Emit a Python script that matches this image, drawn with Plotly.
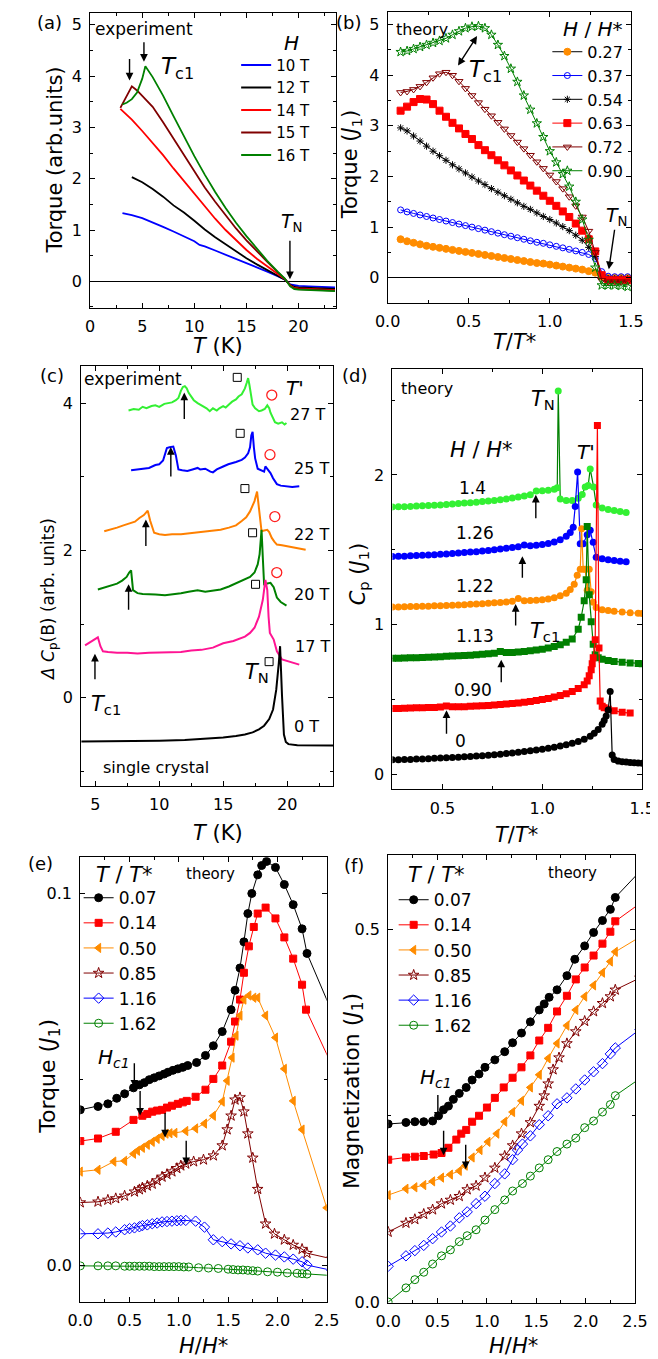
import plotly.graph_objects as go

W, H = 658, 1359
FONT = "DejaVu Sans"


def px(x):
    return x / W


def py(y):
    return 1 - y / H


# ---------------- (a) experiment: torque vs T ----------------
a_T10 = [3.1, 4, 5, 6, 7, 8, 9, 10, 10.5, 11, 12, 13, 14, 15, 16, 17, 18, 18.7, 19.2, 19.6, 20, 21, 22, 23.5]
a_tq10 = [1.33, 1.29, 1.23, 1.15, 1.06, 0.97, 0.88, 0.78, 0.71, 0.68, 0.60, 0.52, 0.43, 0.35, 0.27, 0.19, 0.10, 0.03, -0.06, -0.08, -0.09, -0.10, -0.11, -0.12]
a_T12 = [4, 5, 6, 7, 8, 9, 10, 11, 12, 13, 14, 15, 16, 17, 18, 18.7, 19.2, 19.6, 20, 21, 22, 23.5]
a_tq12 = [2.03, 1.93, 1.80, 1.65, 1.48, 1.34, 1.18, 1.01, 0.86, 0.72, 0.58, 0.45, 0.33, 0.22, 0.11, 0.03, -0.07, -0.11, -0.12, -0.13, -0.14, -0.15]
a_T14 = [2.9, 4, 5, 6, 7, 8, 9, 10, 11, 12, 13, 14, 15, 16, 17, 18, 18.7, 19.2, 19.6, 20, 21, 22, 23.5]
a_tq14 = [3.36, 3.15, 2.93, 2.70, 2.46, 2.20, 1.95, 1.70, 1.45, 1.22, 1.00, 0.80, 0.61, 0.44, 0.29, 0.14, 0.04, -0.08, -0.13, -0.14, -0.15, -0.16, -0.17]
a_T15 = [2.9, 3.5, 4.0, 4.5, 5, 6, 7, 8, 9, 10, 11, 12, 13, 14, 15, 16, 17, 18, 18.7, 19.2, 19.6, 20, 21, 22, 23.5]
a_tq15 = [3.38, 3.60, 3.80, 3.72, 3.62, 3.40, 3.10, 2.78, 2.45, 2.13, 1.83, 1.55, 1.28, 1.03, 0.80, 0.58, 0.38, 0.18, 0.05, -0.09, -0.14, -0.15, -0.16, -0.17, -0.18]
a_T16 = [3.1, 3.5, 4, 4.5, 5, 5.3, 6, 7, 8, 9, 10, 11, 12, 13, 14, 15, 16, 17, 18, 18.7, 19.2, 19.6, 20, 21, 22, 23.5]
a_tq16 = [3.45, 3.48, 3.55, 3.68, 3.95, 4.19, 3.98, 3.62, 3.22, 2.82, 2.44, 2.08, 1.74, 1.43, 1.14, 0.88, 0.63, 0.40, 0.19, 0.05, -0.10, -0.15, -0.16, -0.17, -0.18, -0.19]
a_labels = ["10 T", "12 T", "14 T", "15 T", "16 T"]

# ---------------- (b) theory: torque vs T/T* ----------------
b_x = [0.08, 0.12, 0.16, 0.20, 0.24, 0.28, 0.32, 0.36, 0.40, 0.44, 0.48, 0.52, 0.56, 0.60, 0.64, 0.68, 0.72, 0.76,
       0.80, 0.84, 0.88, 0.92, 0.96, 1.00, 1.04, 1.08, 1.12, 1.16, 1.20, 1.24, 1.28, 1.32, 1.36, 1.40, 1.44, 1.48]
b_027 = [0.76, 0.72, 0.69, 0.66, 0.63, 0.61, 0.59, 0.57, 0.55, 0.53, 0.51, 0.49, 0.47, 0.45, 0.43, 0.41, 0.39, 0.37,
         0.35, 0.33, 0.31, 0.29, 0.28, 0.26, 0.24, 0.22, 0.20, 0.18, 0.16, 0.13, 0.10, 0.02, 0.00, 0.00, 0.00, 0.00]
b_037 = [1.34, 1.30, 1.27, 1.24, 1.21, 1.18, 1.15, 1.12, 1.09, 1.06, 1.03, 1.00, 0.97, 0.94, 0.91, 0.88, 0.85, 0.82,
         0.79, 0.76, 0.73, 0.70, 0.68, 0.65, 0.62, 0.59, 0.56, 0.53, 0.50, 0.46, 0.38, 0.12, 0.03, 0.02, 0.02, 0.02]
b_054 = [2.96, 2.90, 2.80, 2.70, 2.60, 2.50, 2.41, 2.32, 2.23, 2.15, 2.07, 1.99, 1.91, 1.84, 1.76, 1.69, 1.62, 1.55,
         1.48, 1.41, 1.35, 1.28, 1.21, 1.15, 1.08, 1.01, 0.93, 0.84, 0.74, 0.60, 0.42, 0.05, -0.02, -0.02, -0.02, -0.02]
b_063 = [3.30, 3.38, 3.47, 3.53, 3.52, 3.43, 3.30, 3.18, 3.06, 2.95, 2.84, 2.74, 2.62, 2.52, 2.42, 2.32, 2.22, 2.12,
         2.02, 1.92, 1.82, 1.72, 1.62, 1.52, 1.42, 1.31, 1.20, 1.07, 0.93, 0.76, 0.52, 0.05, -0.05, -0.05, -0.05, -0.05]
b_072 = [3.66, 3.68, 3.72, 3.78, 3.86, 3.95, 4.03, 4.06, 4.00, 3.88, 3.74, 3.60, 3.46, 3.33, 3.20, 3.07, 2.94, 2.81,
         2.68, 2.55, 2.42, 2.29, 2.16, 2.03, 1.90, 1.76, 1.60, 1.42, 1.20, 0.92, 0.50, -0.05, -0.08, -0.08, -0.08, -0.08]
b_090 = [4.46, 4.48, 4.52, 4.56, 4.60, 4.64, 4.68, 4.73, 4.80, 4.87, 4.93, 4.96, 4.97, 4.93, 4.80, 4.60, 4.38, 4.13,
         3.87, 3.60, 3.32, 3.05, 2.78, 2.50, 2.28, 2.05, 1.80, 1.50, 1.15, 0.75, 0.20, -0.15, -0.15, -0.15, -0.16, -0.18]
b_labels = ["0.27", "0.37", "0.54", "0.63", "0.72", "0.90"]

# ---------------- (c) experiment: specific heat ----------------
c_T27 = [7.6, 8.0, 8.4, 8.7, 9.0, 9.4, 9.7, 10.0, 10.4, 10.7, 11.0, 11.3, 11.5, 11.7, 11.85, 12.0, 12.15, 12.3, 12.5,
         12.7, 13.0, 13.2, 13.45, 13.7, 13.95, 14.2, 14.5, 14.7, 15.0, 15.2, 15.45, 15.7, 16.0, 16.2, 16.45, 16.7,
         16.85, 16.95, 17.05, 17.15, 17.3, 17.5, 17.8, 18.0, 18.25, 18.45, 18.6, 18.7, 18.9, 19.05, 19.3, 19.6, 19.8, 19.95]
c_v27 = [3.90, 3.92, 3.91, 3.95, 3.93, 3.96, 3.97, 3.95, 3.99, 4.00, 4.01, 4.04, 4.07, 4.17, 4.22, 4.23, 4.20, 4.14, 4.08,
         4.04, 4.00, 3.98, 3.96, 3.93, 3.89, 3.93, 3.90, 3.93, 3.96, 3.94, 3.98, 4.02, 4.05, 4.09, 4.12, 4.20,
         4.28, 4.34, 4.25, 4.13, 3.98, 3.93, 3.89, 3.90, 3.92, 3.97, 3.93, 3.87, 3.80, 3.74, 3.72, 3.74, 3.71, 3.73]
c_T25 = [7.8, 8.2, 8.7, 9.2, 9.7, 10.0, 10.3, 10.45, 10.6, 10.8, 11.1, 11.3, 11.5, 11.8, 12.2, 12.6, 13.0, 13.2, 13.6,
         14.0, 14.2, 14.5, 14.7, 15.0, 15.4, 15.7, 16.0, 16.45, 16.7, 16.95, 17.1, 17.2, 17.3, 17.4, 17.5, 17.7, 17.9,
         18.2, 18.3, 18.5, 18.7, 18.9, 19.2, 19.5, 19.95, 20.4, 20.95]
c_v25 = [3.09, 3.10, 3.11, 3.12, 3.16, 3.17, 3.22, 3.30, 3.39, 3.40, 3.41, 3.29, 3.10, 3.09, 3.08, 3.10, 3.12, 3.10, 3.11,
         3.07, 3.06, 3.10, 3.12, 3.14, 3.17, 3.18, 3.20, 3.23, 3.26, 3.32, 3.40, 3.56, 3.61, 3.40, 3.25, 3.11, 3.09,
         3.07, 3.14, 3.10, 3.05, 2.98, 2.90, 2.88, 2.87, 2.86, 2.87]
c_T22 = [5.7, 6.2, 6.7, 7.2, 7.7, 8.1, 8.45, 8.8, 9.1, 9.3, 9.6, 10.0, 10.45, 11.0, 11.7, 12.3, 12.95, 13.6, 14.2, 14.8,
         15.45, 16.0, 16.45, 16.8, 17.1, 17.3, 17.45, 17.65, 17.8, 18.0, 18.2, 18.45, 18.6, 18.8, 19.0, 19.2, 19.6,
         19.95, 20.3, 20.7, 21.1, 21.45]
c_v22 = [2.26, 2.28, 2.31, 2.34, 2.37, 2.39, 2.44, 2.48, 2.54, 2.40, 2.24, 2.22, 2.21, 2.22, 2.22, 2.23, 2.24, 2.25, 2.26,
         2.28, 2.31, 2.34, 2.40, 2.45, 2.53, 2.60, 2.67, 2.80, 2.53, 2.26, 2.27, 2.28, 2.25, 2.17, 2.12, 2.08, 2.07,
         2.06, 2.04, 2.03, 2.02, 2.01]
c_T20 = [5.2, 5.7, 6.2, 6.7, 7.1, 7.45, 7.65, 7.8, 7.95, 8.3, 8.7, 9.2, 9.7, 10.45, 11.0, 11.7, 12.3, 13.0, 13.6, 14.2,
         14.8, 15.45, 16.0, 16.7, 17.1, 17.45, 17.7, 17.85, 18.0, 18.1, 18.2, 18.45, 18.7, 18.95, 19.2, 19.5, 19.95]
c_v20 = [1.47, 1.50, 1.52, 1.55, 1.59, 1.64, 1.70, 1.73, 1.46, 1.42, 1.41, 1.40, 1.40, 1.39, 1.40, 1.42, 1.44, 1.46, 1.44,
         1.45, 1.47, 1.51, 1.55, 1.60, 1.64, 1.70, 1.81, 1.95, 2.28, 1.90, 1.54, 1.55, 1.56, 1.50, 1.36, 1.30, 1.25]
c_T17 = [4.2, 4.6, 5.0, 5.2, 5.4, 5.6, 6.0, 6.7, 7.5, 8.3, 9.2, 10.0, 10.8, 11.7, 12.5, 13.3, 14.2, 15.0, 15.8, 16.7,
         17.1, 17.45, 17.8, 18.1, 18.3, 18.45, 18.55, 18.65, 18.95, 19.2, 19.6, 19.95, 20.45, 20.95]
c_v17 = [0.71, 0.75, 0.80, 0.82, 0.70, 0.63, 0.62, 0.61, 0.61, 0.60, 0.61, 0.61, 0.62, 0.62, 0.64, 0.65, 0.68, 0.74, 0.77,
         0.83, 0.88, 0.95, 1.10, 1.33, 1.60, 1.46, 1.10, 0.88, 0.79, 0.63, 0.52, 0.50, 0.47, 0.45]
c_T0 = [3.9, 6, 8, 10, 12, 13, 14, 15, 16, 16.7, 17.3, 17.8, 18.2, 18.6, 18.9, 19.15, 19.35, 19.45, 19.6, 19.75, 19.9,
        20.1, 20.8, 22, 23.6]
c_v0 = [-0.595, -0.595, -0.59, -0.585, -0.575, -0.565, -0.555, -0.54, -0.52, -0.50, -0.47, -0.43, -0.38, -0.29, -0.16,
        0.11, 0.47, 0.70, 0.03, -0.50, -0.60, -0.63, -0.645, -0.65, -0.65]
c_sq_T = [16.1, 16.33, 16.7, 17.3, 17.53, 18.59]       # T_N markers (open squares)
c_sq_v = [4.35, 3.59, 2.84, 2.24, 1.54, 0.49]
c_ci_T = [18.8, 18.66, 19.04, 19.19]                  # T' markers (open circles)
c_ci_v = [4.11, 3.30, 2.46, 1.70]
c_labels = ["27 T", "25 T", "22 T", "20 T", "17 T", "0 T"]

# ---------------- (d) theory: specific heat ----------------
d_x0 = [0.25, 0.28, 0.31, 0.34, 0.37, 0.40, 0.43, 0.46, 0.49, 0.52, 0.55, 0.58, 0.61, 0.64, 0.67, 0.70, 0.73, 0.76,
        0.79, 0.82, 0.85, 0.88, 0.91, 0.94, 0.97, 1.00, 1.03, 1.06, 1.09, 1.12, 1.15, 1.18, 1.21, 1.24, 1.26, 1.28,
        1.30, 1.31, 1.32, 1.33, 1.34, 1.35, 1.36, 1.38, 1.40, 1.42, 1.44, 1.46, 1.48, 1.50]
d_c0 = [0.098, 0.099, 0.100, 0.101, 0.103, 0.104, 0.106, 0.108, 0.110, 0.112, 0.114, 0.116, 0.118, 0.120, 0.123, 0.126,
        0.129, 0.132, 0.136, 0.140, 0.144, 0.148, 0.153, 0.158, 0.163, 0.169, 0.175, 0.182, 0.190, 0.199, 0.209, 0.221,
        0.235, 0.255, 0.275, 0.300, 0.335, 0.360, 0.390, 0.430, 0.555, 0.130, 0.100, 0.090, 0.086, 0.083, 0.080, 0.078,
        0.077, 0.076]
d_x090 = [0.25, 0.28, 0.31, 0.34, 0.37, 0.40, 0.43, 0.46, 0.49, 0.52, 0.55, 0.58, 0.61, 0.64, 0.67, 0.70, 0.73, 0.76,
          0.79, 0.82, 0.85, 0.88, 0.91, 0.94, 0.97, 1.00, 1.03, 1.06, 1.09, 1.12, 1.15, 1.18, 1.21, 1.225, 1.235, 1.245,
          1.25, 1.255, 1.265, 1.276, 1.284, 1.29, 1.30, 1.31, 1.33, 1.36, 1.40, 1.44]
d_c090 = [0.440, 0.441, 0.442, 0.444, 0.445, 0.446, 0.447, 0.448, 0.450, 0.458, 0.452, 0.452, 0.453, 0.455, 0.457, 0.459,
          0.461, 0.464, 0.467, 0.470, 0.474, 0.478, 0.483, 0.488, 0.494, 0.500, 0.508, 0.517, 0.527, 0.540, 0.555, 0.575,
          0.600, 0.625, 0.660, 0.700, 0.740, 0.780, 0.900, 2.330, 0.845, 0.490, 0.455, 0.445, 0.435, 0.425, 0.415, 0.410]
d_x113 = [0.25, 0.28, 0.31, 0.34, 0.37, 0.40, 0.43, 0.46, 0.49, 0.52, 0.55, 0.58, 0.61, 0.64, 0.67, 0.70, 0.73, 0.76,
          0.79, 0.82, 0.85, 0.88, 0.91, 0.94, 0.97, 1.00, 1.03, 1.06, 1.09, 1.12, 1.15, 1.18, 1.195, 1.21, 1.22, 1.225,
          1.235, 1.245, 1.255, 1.265, 1.28, 1.30, 1.33, 1.36, 1.40, 1.44, 1.48, 1.50]
d_c113 = [0.776, 0.777, 0.778, 0.779, 0.780, 0.782, 0.783, 0.785, 0.787, 0.789, 0.791, 0.793, 0.795, 0.797, 0.800, 0.803,
          0.806, 0.810, 0.822, 0.814, 0.815, 0.818, 0.822, 0.826, 0.831, 0.837, 0.845, 0.855, 0.867, 0.883, 0.905, 0.970,
          1.050, 1.160, 1.300, 1.655, 1.200, 1.020, 0.870, 0.800, 0.780, 0.770, 0.762, 0.755, 0.750, 0.745, 0.742, 0.740]
d_x122 = [0.25, 0.28, 0.31, 0.34, 0.37, 0.40, 0.43, 0.46, 0.49, 0.52, 0.55, 0.58, 0.61, 0.64, 0.67, 0.70, 0.73, 0.76,
          0.79, 0.82, 0.85, 0.88, 0.91, 0.94, 0.97, 1.00, 1.03, 1.06, 1.09, 1.12, 1.14, 1.16, 1.175, 1.19, 1.197, 1.205,
          1.215, 1.225, 1.235, 1.245, 1.255, 1.27, 1.30, 1.33, 1.36, 1.40, 1.44, 1.48, 1.50]
d_c122 = [1.118, 1.119, 1.120, 1.121, 1.122, 1.123, 1.124, 1.126, 1.127, 1.129, 1.130, 1.132, 1.134, 1.136, 1.138, 1.140,
          1.143, 1.146, 1.149, 1.152, 1.156, 1.175, 1.160, 1.161, 1.163, 1.166, 1.172, 1.180, 1.193, 1.210, 1.235, 1.270,
          1.330, 1.370, 1.640, 1.370, 1.370, 1.230, 1.370, 1.220, 1.150, 1.115, 1.100, 1.095, 1.090, 1.085, 1.080, 1.077,
          1.075]
d_x126 = [0.25, 0.28, 0.31, 0.34, 0.37, 0.40, 0.43, 0.46, 0.49, 0.52, 0.55, 0.58, 0.61, 0.64, 0.67, 0.70, 0.73, 0.76,
          0.79, 0.82, 0.85, 0.88, 0.91, 0.94, 0.97, 1.00, 1.03, 1.06, 1.09, 1.12, 1.14, 1.155, 1.165, 1.177, 1.19, 1.205,
          1.225, 1.24, 1.255, 1.27, 1.30, 1.33, 1.36, 1.39, 1.42]
d_c126 = [1.456, 1.457, 1.458, 1.460, 1.462, 1.464, 1.466, 1.468, 1.470, 1.473, 1.476, 1.479, 1.482, 1.485, 1.488, 1.492,
          1.496, 1.500, 1.505, 1.510, 1.515, 1.520, 1.533, 1.528, 1.530, 1.535, 1.543, 1.553, 1.567, 1.590, 1.615, 1.650,
          1.790, 2.020, 1.540, 1.540, 1.600, 1.630, 1.550, 1.450, 1.440, 1.433, 1.428, 1.424, 1.420]
d_x140 = [0.25, 0.28, 0.31, 0.34, 0.37, 0.40, 0.43, 0.46, 0.49, 0.52, 0.55, 0.58, 0.61, 0.64, 0.67, 0.70, 0.73, 0.76,
          0.79, 0.82, 0.85, 0.88, 0.91, 0.94, 0.97, 1.00, 1.03, 1.06, 1.075, 1.08, 1.09, 1.12, 1.15, 1.18, 1.20, 1.215,
          1.23, 1.24, 1.257, 1.27, 1.30, 1.33, 1.36, 1.39, 1.42]
d_c140 = [1.786, 1.787, 1.788, 1.790, 1.792, 1.794, 1.796, 1.798, 1.800, 1.803, 1.806, 1.809, 1.812, 1.815, 1.818, 1.822,
          1.826, 1.830, 1.835, 1.840, 1.846, 1.853, 1.860, 1.868, 1.893, 1.895, 1.898, 1.905, 1.915, 2.560, 1.840, 1.830,
          1.830, 1.845, 1.870, 1.920, 1.930, 2.040, 1.920, 1.800, 1.780, 1.770, 1.762, 1.756, 1.750]
d_labels = ["1.4", "1.26", "1.22", "1.13", "0.90", "0"]

# ---------------- (e) theory: torque vs H/H* ----------------
e_x007 = [0, 0.18, 0.28, 0.37, 0.45, 0.54, 0.60, 0.65, 0.70, 0.75, 0.80, 0.85, 0.89, 0.94, 0.99, 1.04, 1.09, 1.18, 1.27,
          1.35, 1.44, 1.53, 1.57, 1.62, 1.66, 1.70, 1.74, 1.80, 1.84, 1.89, 1.98, 2.07, 2.16, 2.25, 2.30, 2.55]
e_t007 = [0.0419, 0.0428, 0.0435, 0.0450, 0.0462, 0.0478, 0.0486, 0.0492, 0.0500, 0.0505, 0.0510, 0.0515, 0.0520, 0.0525,
          0.0529, 0.0533, 0.0538, 0.0546, 0.0565, 0.0591, 0.0629, 0.0688, 0.0740, 0.0800, 0.0870, 0.0946, 0.1000, 0.1050,
          0.1075, 0.1086, 0.1070, 0.1024, 0.0970, 0.0905, 0.0839, 0.0684]
e_x014 = [0, 0.18, 0.36, 0.54, 0.63, 0.68, 0.73, 0.78, 0.83, 0.88, 0.93, 0.99, 1.04, 1.08, 1.17, 1.27, 1.35, 1.44, 1.53,
          1.57, 1.62, 1.66, 1.71, 1.76, 1.80, 1.88, 1.98, 2.07, 2.16, 2.25, 2.29, 2.55]
e_t014 = [0.0335, 0.0342, 0.0360, 0.0392, 0.0403, 0.0408, 0.0414, 0.0417, 0.0419, 0.0425, 0.0430, 0.0435, 0.0439, 0.0443,
          0.0454, 0.0473, 0.0502, 0.0538, 0.0602, 0.0656, 0.0715, 0.0787, 0.0858, 0.0910, 0.0946, 0.0962, 0.0933, 0.0882,
          0.0825, 0.0755, 0.0688, 0.0540]
e_x050 = [0, 0.18, 0.34, 0.45, 0.54, 0.58, 0.63, 0.68, 0.73, 0.78, 0.83, 0.87, 0.91, 0.96, 1.07, 1.17, 1.26, 1.35, 1.44,
          1.49, 1.54, 1.58, 1.62, 1.66, 1.71, 1.76, 1.80, 1.88, 1.98, 2.07, 2.16, 2.25, 2.50]
e_t050 = [0.0253, 0.0258, 0.0280, 0.0282, 0.0301, 0.0309, 0.0317, 0.0325, 0.0333, 0.0341, 0.0349, 0.0355, 0.0356, 0.0357,
          0.0362, 0.0369, 0.0382, 0.0403, 0.0441, 0.0497, 0.0559, 0.0618, 0.0672, 0.0715, 0.0726, 0.0720, 0.0720, 0.0672,
          0.0613, 0.0529, 0.0443, 0.0366, 0.0156]
e_x085 = [0, 0.18, 0.28, 0.36, 0.45, 0.55, 0.60, 0.63, 0.68, 0.73, 0.78, 0.83, 0.88, 0.93, 0.98, 1.02, 1.07, 1.15, 1.25,
          1.35, 1.44, 1.49, 1.53, 1.57, 1.62, 1.66, 1.70, 1.75, 1.80, 1.88, 1.97, 2.07, 2.16, 2.25, 2.30, 2.55]
e_t085 = [0.0170, 0.0172, 0.0177, 0.0181, 0.0188, 0.0199, 0.0205, 0.0210, 0.0215, 0.0220, 0.0229, 0.0239, 0.0246, 0.0253,
          0.0262, 0.0269, 0.0274, 0.0280, 0.0285, 0.0296, 0.0323, 0.0366, 0.0403, 0.0446, 0.0452, 0.0414, 0.0355, 0.0290,
          0.0206, 0.0113, 0.0086, 0.0070, 0.0056, 0.0045, 0.0034, 0.0019]
e_x116 = [0, 0.18, 0.28, 0.36, 0.45, 0.50, 0.55, 0.60, 0.63, 0.68, 0.73, 0.78, 0.83, 0.88, 0.93, 0.98, 1.02, 1.07, 1.17,
          1.26, 1.35, 1.44, 1.53, 1.62, 1.70, 1.80, 1.88, 1.98, 2.07, 2.16, 2.25, 2.30, 2.55]
e_t116 = [0.0086, 0.0086, 0.0088, 0.0091, 0.0097, 0.0100, 0.0102, 0.0105, 0.0108, 0.0110, 0.0113, 0.0115, 0.0118, 0.0119,
          0.0120, 0.0121, 0.0122, 0.0122, 0.0120, 0.0104, 0.0070, 0.0065, 0.0059, 0.0054, 0.0048, 0.0043, 0.0034, 0.0029,
          0.0024, 0.0018, 0.0011, 0.0002, -0.0012]
e_x162 = [0, 0.18, 0.28, 0.36, 0.45, 0.50, 0.55, 0.60, 0.65, 0.70, 0.75, 0.80, 0.85, 0.90, 0.95, 1.00, 1.05, 1.10, 1.20,
          1.30, 1.40, 1.50, 1.55, 1.60, 1.65, 1.70, 1.75, 1.80, 1.90, 2.00, 2.10, 2.20, 2.25, 2.30, 2.55]
e_t162 = [0.0, 0.0, 0.0, 0.0, -0.0001, -0.0001, -0.0001, -0.0001, -0.0001, -0.0001, -0.0002, -0.0002, -0.0002, -0.0002,
          -0.0002, -0.0002, -0.0003, -0.0003, -0.0005, -0.0006, -0.0007, -0.0009, -0.0010, -0.0011, -0.0011, -0.0012,
          -0.0013, -0.0014, -0.0016, -0.0017, -0.0019, -0.0020, -0.0021, -0.0022, -0.0026]
ef_labels = ["0.07", "0.14", "0.50", "0.85", "1.16", "1.62"]

# ---------------- (f) theory: magnetization vs H/H* ----------------
f_x007 = [0, 0.18, 0.27, 0.36, 0.45, 0.51, 0.56, 0.61, 0.66, 0.72, 0.79, 0.85, 0.92, 0.98, 1.08, 1.18, 1.26, 1.35, 1.44,
          1.53, 1.58, 1.63, 1.71, 1.81, 1.89, 1.99, 2.08, 2.17, 2.25, 2.30, 2.55]
f_m007 = [0.239, 0.241, 0.242, 0.242, 0.243, 0.250, 0.258, 0.263, 0.272, 0.280, 0.288, 0.298, 0.306, 0.315, 0.325, 0.336,
          0.348, 0.361, 0.376, 0.392, 0.400, 0.409, 0.419, 0.438, 0.460, 0.478, 0.496, 0.512, 0.527, 0.543, 0.578]
f_x014 = [0, 0.18, 0.27, 0.36, 0.46, 0.54, 0.61, 0.69, 0.74, 0.79, 0.85, 0.92, 1.00, 1.08, 1.17, 1.26, 1.35, 1.44, 1.53,
          1.62, 1.71, 1.81, 1.90, 1.99, 2.08, 2.17, 2.25, 2.30, 2.55]
f_m014 = [0.191, 0.194, 0.195, 0.196, 0.198, 0.200, 0.207, 0.218, 0.226, 0.231, 0.242, 0.250, 0.261, 0.274, 0.288, 0.301,
          0.315, 0.331, 0.351, 0.368, 0.390, 0.411, 0.433, 0.449, 0.465, 0.481, 0.497, 0.511, 0.535]
f_x050 = [0, 0.18, 0.27, 0.36, 0.45, 0.54, 0.63, 0.72, 0.78, 0.85, 0.93, 1.01, 1.10, 1.18, 1.26, 1.35, 1.44, 1.53, 1.62,
          1.71, 1.81, 1.90, 1.99, 2.08, 2.17, 2.25, 2.30, 2.55]
f_m050 = [0.1435, 0.152, 0.154, 0.157, 0.162, 0.167, 0.171, 0.176, 0.183, 0.194, 0.204, 0.215, 0.226, 0.242, 0.255,
          0.270, 0.288, 0.305, 0.327, 0.347, 0.371, 0.392, 0.410, 0.425, 0.442, 0.457, 0.470, 0.490]
f_x085 = [0, 0.18, 0.27, 0.36, 0.45, 0.54, 0.63, 0.72, 0.80, 0.89, 0.98, 1.08, 1.18, 1.26, 1.35, 1.44, 1.53, 1.58, 1.62,
          1.67, 1.73, 1.81, 1.90, 1.99, 2.08, 2.17, 2.25, 2.30, 2.55]
f_m085 = [0.094, 0.106, 0.111, 0.118, 0.124, 0.132, 0.137, 0.142, 0.151, 0.156, 0.167, 0.180, 0.196, 0.210, 0.226, 0.241,
          0.263, 0.277, 0.293, 0.312, 0.328, 0.347, 0.363, 0.377, 0.390, 0.401, 0.410, 0.419, 0.435]
f_x116 = [0, 0.18, 0.27, 0.36, 0.45, 0.54, 0.63, 0.72, 0.80, 0.89, 0.98, 1.08, 1.18, 1.26, 1.31, 1.36, 1.44, 1.53, 1.62,
          1.71, 1.81, 1.90, 1.99, 2.08, 2.17, 2.25, 2.30, 2.55]
f_m116 = [0.048, 0.062, 0.069, 0.076, 0.085, 0.094, 0.102, 0.113, 0.121, 0.132, 0.142, 0.159, 0.172, 0.191, 0.204, 0.212,
          0.223, 0.238, 0.250, 0.266, 0.274, 0.286, 0.298, 0.309, 0.320, 0.333, 0.341, 0.366]
f_x162 = [0, 0.18, 0.27, 0.36, 0.45, 0.54, 0.63, 0.72, 0.80, 0.89, 0.98, 1.08, 1.18, 1.26, 1.36, 1.44, 1.53, 1.62, 1.71,
          1.81, 1.90, 1.99, 2.08, 2.17, 2.25, 2.30, 2.55]
f_m162 = [0.0, 0.019, 0.030, 0.040, 0.051, 0.062, 0.070, 0.081, 0.089, 0.097, 0.110, 0.124, 0.137, 0.149, 0.159, 0.169,
          0.180, 0.191, 0.202, 0.212, 0.220, 0.234, 0.243, 0.255, 0.265, 0.277, 0.300]

# ---------------- styles ----------------
ORANGE = "#FF8C00"
DARKRED = "#800000"
GREEN = "#008000"
LIME = "#33F033"
PINK = "#FF1493"

fig = go.Figure()

# (a)
for T, v, lab, col in zip([a_T10, a_T12, a_T14, a_T15, a_T16], [a_tq10, a_tq12, a_tq14, a_tq15, a_tq16],
                          a_labels, ["#0000FF", "black", "#FF0000", DARKRED, GREEN]):
    fig.add_trace(go.Scatter(x=T, y=v, mode="lines", name=lab, line=dict(color=col, width=1.8),
                             xaxis="x", yaxis="y", legend="legend"))

# (b)
b_series = [b_027, b_037, b_054, b_063, b_072, b_090]
b_sym = ["circle", "circle-open", "asterisk-open", "square", "triangle-down-open", "star-open"]
b_col = [ORANGE, "#0000FF", "black", "#FF0000", DARKRED, GREEN]
b_lcol = ["black", "#0000FF", "black", "#FF0000", DARKRED, GREEN]
b_size = [7, 6, 6, 7, 7, 7]
for v, lab, s, col, lc, sz in zip(b_series, b_labels, b_sym, b_col, b_lcol, b_size):
    fig.add_trace(go.Scatter(x=b_x, y=v, mode="lines+markers", name=lab,
                             line=dict(color=lc, width=1),
                             marker=dict(symbol=s, size=sz, color=col, line=dict(color=col, width=1)),
                             xaxis="x2", yaxis="y2", legend="legend2"))

# (c)
for T, v, col in zip([c_T27, c_T25, c_T22, c_T20, c_T17, c_T0], [c_v27, c_v25, c_v22, c_v20, c_v17, c_v0],
                     [LIME, "#0000FF", "#FF8000", GREEN, PINK, "black"]):
    fig.add_trace(go.Scatter(x=T, y=v, mode="lines", line=dict(color=col, width=2),
                             xaxis="x3", yaxis="y3", showlegend=False))
fig.add_trace(go.Scatter(x=c_sq_T, y=c_sq_v, mode="markers",
                         marker=dict(symbol="square-open", size=8, color="black", line=dict(width=1)),
                         xaxis="x3", yaxis="y3", showlegend=False))
fig.add_trace(go.Scatter(x=c_ci_T, y=c_ci_v, mode="markers",
                         marker=dict(symbol="circle-open", size=10, color="#FF2020", line=dict(width=1.3)),
                         xaxis="x3", yaxis="y3", showlegend=False))

# (d)
d_sets = [(d_x140, d_c140, LIME, GREEN, "circle"), (d_x126, d_c126, "#0000FF", "#0000FF", "circle"),
          (d_x122, d_c122, "#FF8C00", "#FF8C00", "circle"), (d_x113, d_c113, GREEN, GREEN, "square"),
          (d_x090, d_c090, "#FF0000", "#FF0000", "square"), (d_x0, d_c0, "black", "black", "circle")]
for x, v, mc, lc, s in d_sets:
    fig.add_trace(go.Scatter(x=x, y=v, mode="lines+markers", line=dict(color=lc, width=1.2),
                             marker=dict(symbol=s, size=7, color=mc),
                             xaxis="x4", yaxis="y4", showlegend=False))

# (e) and (f)
ef_sym = ["circle", "square", "triangle-left", "star-open", "diamond-open", "circle-open"]
ef_col = ["black", "#FF0000", ORANGE, DARKRED, "#0000FF", GREEN]
ef_size = [8, 7, 8, 8, 8, 8]
e_sets = [(e_x007, e_t007), (e_x014, e_t014), (e_x050, e_t050), (e_x085, e_t085), (e_x116, e_t116), (e_x162, e_t162)]
f_sets = [(f_x007, f_m007), (f_x014, f_m014), (f_x050, f_m050), (f_x085, f_m085), (f_x116, f_m116), (f_x162, f_m162)]
for (x, v), lab, s, col, sz in zip(e_sets, ef_labels, ef_sym, ef_col, ef_size):
    fig.add_trace(go.Scatter(x=x, y=v, mode="lines+markers", name=lab, line=dict(color=col, width=1),
                             marker=dict(symbol=s, size=sz, color=col, line=dict(color=col, width=1)),
                             xaxis="x5", yaxis="y5", legend="legend3"))
for (x, v), lab, s, col, sz in zip(f_sets, ef_labels, ef_sym, ef_col, ef_size):
    fig.add_trace(go.Scatter(x=x, y=v, mode="lines+markers", name=lab, line=dict(color=col, width=1),
                             marker=dict(symbol=s, size=sz, color=col, line=dict(color=col, width=1)),
                             xaxis="x6", yaxis="y6", legend="legend4"))


# ---------------- axes ----------------
def axis(domain, rng, dtick, mdtick, anchor, fmt=None, zeroline=False, standoff=4):
    d = dict(domain=domain, range=rng, dtick=dtick, tick0=0, ticks="inside", ticklen=5, tickwidth=1,
             tickcolor="black", showline=True, linecolor="black", linewidth=1, mirror="ticks",
             showgrid=False, zeroline=zeroline, zerolinecolor="black", zerolinewidth=1,
             minor=dict(ticks="inside", ticklen=3, dtick=mdtick, tick0=0, tickcolor="black", showgrid=False),
             tickfont=dict(size=16, family=FONT, color="black"), anchor=anchor, ticklabelstandoff=standoff)
    if fmt:
        d["tickformat"] = fmt
    return d


def dom_x(l, r):
    return [l / W, r / W]


def dom_y(b, t):
    return [1 - b / H, 1 - t / H]


fig.update_layout(
    xaxis=axis(dom_x(72, 328), [0, 23.6], 5, 2.5, "y"),
    yaxis=axis(dom_y(302, 5), [-0.52, 5.23], 1, 0.5, "x", zeroline=True),
    xaxis2=axis(dom_x(381.7, 635), [0, 1.5], 0.5, 0.25, "y2", ".1f"),
    yaxis2=axis(dom_y(297, 4), [-0.5, 5.25], 1, 0.5, "x2", zeroline=True),
    xaxis3=axis(dom_x(62.7, 325), [3.9, 23.6], 5, 2.5, "y3"),
    yaxis3=axis(dom_y(783.3, 360.7), [-1.2, 4.5], 2, 1, "x3"),
    xaxis4=axis(dom_x(386.7, 646.7), [0.25, 1.5], 0.5, 0.25, "y4", ".1f"),
    yaxis4=axis(dom_y(786.7, 363), [-0.1, 2.71], 1, 0.5, "x4"),
    xaxis5=axis(dom_x(61.7, 318.3), [0, 2.5], 0.5, 0.25, "y5", ".1f"),
    yaxis5=axis(dom_y(1302.6, 855), [-0.0097, 0.1097], 0.1, 0.05, "x5", ".1f"),
    xaxis6=axis(dom_x(382.3, 639.3), [0, 2.5], 0.5, 0.25, "y6", ".1f"),
    yaxis6=axis(dom_y(1303.4, 853), [-0.001, 0.5995], 0.5, 0.25, "x6", ".1f"),
)


def leg(x, y, size):
    return dict(x=px(x), y=py(y), xanchor="left", yanchor="top", bgcolor="rgba(0,0,0,0)", borderwidth=0,
                font=dict(size=size, family=FONT, color="black"), tracegroupgap=0, itemwidth=30,
                traceorder="normal", itemclick=False)


fig.update_layout(legend=leg(224, 41, 15), legend2=leg(548, 27, 16), legend3=leg(60, 878, 17),
                  legend4=leg(388, 880, 17))

# ---------------- annotations ----------------
ann = []


def txt(x, y, s, size=16, angle=0, xanchor="center", color="black"):
    ann.append(dict(x=px(x), y=py(y), xref="paper", yref="paper", text=s, showarrow=False, textangle=angle,
                    font=dict(size=size, family=FONT, color=color), xanchor=xanchor, yanchor="middle"))


def arrow(x, y_tail, y_head, x_tail=None, both=False):
    if x_tail is None:
        x_tail = x
    ann.append(dict(x=px(x), y=py(y_head), xref="paper", yref="paper", ax=x_tail - x, ay=y_tail - y_head,
                    axref="pixel", ayref="pixel", showarrow=True, arrowhead=2, arrowsize=1.1, arrowwidth=1.4,
                    arrowcolor="black", arrowside="end+start" if both else "end", text=""))


# (a)
txt(30, 15, "(a)", 18)
txt(128, 21, "experiment", 17)
txt(163, 60, "<i>T</i><sub>c1</sub>", 23)
arrow(128, 33, 54)
arrow(113, 50, 73)
txt(282, 35, "<i>H</i>", 20)
txt(282, 216, "<i>T</i><sub>N</sub>", 19)
arrow(280, 233, 273)
txt(35, 153, "Torque (arb.units)", 21, -90)
txt(205, 340, "<i>T</i> (K)", 21)
# (b)
txt(341, 15, "(b)", 18)
txt(417, 22, "theory", 16)
txt(596, 21, "<i>H</i> / <i>H</i>*", 20)
arrow(455, 27, 58, x_tail=475, both=True)
txt(484, 63, "<i>T</i><sub>c1</sub>", 23)
txt(621, 210, "<i>T</i><sub>N</sub>", 19)
arrow(612, 222, 263, x_tail=618)
txt(344, 157, "Torque (<i>J</i><sub>1</sub>)", 21, -90)
txt(514, 336, "<i>T</i>/<i>T</i>*", 21)
# (c)
txt(32, 370, "(c)", 18)
txt(117, 373, "experiment", 17)
txt(285, 383, "<i>T'</i>", 20)
for lab, (lx, ly) in zip(c_labels, [(298, 409), (302, 464), (302, 530), (302, 590), (303, 643), (297, 723)]):
    txt(lx, ly, lab, 16)
for ax_x, yt, yh in [(170, 415, 387), (156, 473, 442), (130, 543, 515), (112, 607, 580), (77, 677, 650)]:
    arrow(ax_x, yt, yh)
txt(89, 702, "<i>T</i><sub>c1</sub>", 21)
txt(246, 669, "<i>T</i><sub>N</sub>", 21)
txt(141, 765, "single crystal", 16)
txt(29, 595, "<i>Δ C</i><sub>p</sub>(B) (arb. units)", 17, -90)
txt(205, 831, "<i>T</i> (K)", 21)
# (d)
txt(347, 370, "(d)", 18)
txt(423, 383, "theory", 16)
txt(543, 395, "<i>T</i><sub>N</sub>", 21)
txt(479, 445, "<i>H</i> / <i>H</i>*", 21)
txt(588, 447, "<i>T</i>'", 20)
for lab, (lx, ly) in zip(d_labels, [(470, 483), (473, 528), (473, 582), (473, 632), (471, 687), (458, 738)]):
    txt(lx, ly, lab, 17)
for ax_x, yt, yh in [(536, 515, 490), (522, 575, 552), (515, 623, 600), (500, 680, 656), (443, 732, 707)]:
    arrow(ax_x, yt, yh)
txt(546, 628, "<i>T</i><sub>c1</sub>", 21)
txt(352, 570, "<i>C</i><sub>p</sub> (<i>J</i><sub>1</sub>)", 21, -90)
txt(516, 833, "<i>T</i>/<i>T</i>*", 21)
# (e)
txt(20, 861, "(e)", 18)
txt(197, 872, "theory", 15)
txt(108, 873, "<i>T</i> / <i>T</i>*", 21)
txt(97, 1057, "<i>H<sub>c1</sub></i>", 20)
for ax_x, yt, yh in [(118, 1061, 1087), (124, 1089, 1115), (150, 1111, 1137), (172, 1139, 1165)]:
    arrow(ax_x, yt, yh)
txt(30, 1075, "Torque (<i>J</i><sub>1</sub>)", 22, -90)
txt(190, 1347, "<i>H</i>/<i>H</i>*", 21)
# (f)
txt(347, 863, "(f)", 18)
txt(574, 871, "theory", 15)
txt(433, 873, "<i>T</i> / <i>T</i>*", 21)
txt(432, 1077, "<i>H<sub>c1</sub></i>", 20)
for ax_x, yt, yh in [(434, 1093, 1119), (440, 1129, 1155), (463, 1143, 1169)]:
    arrow(ax_x, yt, yh)
txt(346, 1090, "Magnetization (<i>J</i><sub>1</sub>)", 22, -90)
txt(513, 1347, "<i>H</i>/<i>H</i>*", 21)

fig.update_layout(annotations=ann, width=W, height=H, margin=dict(l=0, r=0, t=0, b=0),
                  paper_bgcolor="white", plot_bgcolor="white",
                  font=dict(family=FONT, color="black"))

fig.write_html("out.html")
